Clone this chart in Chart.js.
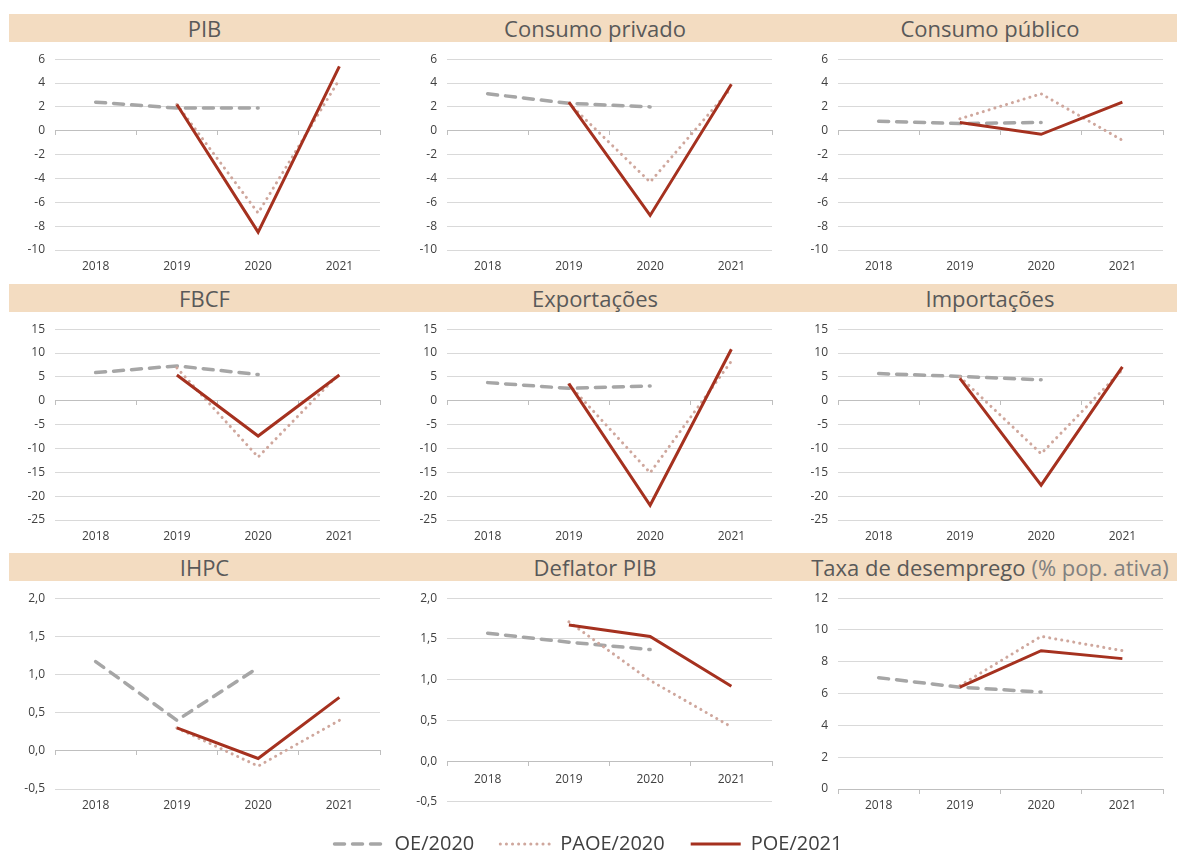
<!DOCTYPE html>
<html>
<head>
<meta charset="utf-8">
<script src="https://cdn.jsdelivr.net/npm/chart.js@4.4.1/dist/chart.umd.min.js"></script>
<style>
    body { margin: 0; background: #fff; width: 1177px; height: 853px; position: relative; overflow: hidden; font-family: "Open Sans", sans-serif; }
    .bar { position: absolute; left: 9px; width: 1168px; height: 28px; background: #F3DCC1; }
    .ttl { position: absolute; height: 28px; display: flex; justify-content: center; align-items: center; font-size: 22px; color: #595959; white-space: nowrap; }
    .ttl span { color: #808080; margin-left: 6px; }
    .cell { position: absolute; }
</style>
</head>
<body>
<div class="bar" style="top:14px"></div>
<div class="bar" style="top:284px"></div>
<div class="bar" style="top:553px"></div>

<div class="ttl" style="top:14px;left:9px;width:391px">PIB</div>
<div class="ttl" style="top:14px;left:400px;width:390px">Consumo privado</div>
<div class="ttl" style="top:14px;left:803px;width:374px">Consumo público</div>
<div class="ttl" style="top:284px;left:9px;width:391px">FBCF</div>
<div class="ttl" style="top:284px;left:400px;width:390px">Exportações</div>
<div class="ttl" style="top:284px;left:803px;width:374px">Importações</div>
<div class="ttl" style="top:553px;left:9px;width:391px">IHPC</div>
<div class="ttl" style="top:553px;left:400px;width:390px">Deflator PIB</div>
<div class="ttl" style="top:553px;left:803px;width:374px">Taxa de desemprego<span>(% pop. ativa)</span></div>

<div class="cell" style="left:0;top:42px;width:392px;height:238px"><canvas id="c-pib"></canvas></div>
<div class="cell" style="left:392px;top:42px;width:392px;height:238px"><canvas id="c-cpriv"></canvas></div>
<div class="cell" style="left:784px;top:42px;width:393px;height:238px"><canvas id="c-cpub"></canvas></div>
<div class="cell" style="left:0;top:312px;width:392px;height:238px"><canvas id="c-fbcf"></canvas></div>
<div class="cell" style="left:392px;top:312px;width:392px;height:238px"><canvas id="c-exp"></canvas></div>
<div class="cell" style="left:784px;top:312px;width:393px;height:238px"><canvas id="c-imp"></canvas></div>
<div class="cell" style="left:0;top:581px;width:392px;height:238px"><canvas id="c-ihpc"></canvas></div>
<div class="cell" style="left:392px;top:581px;width:392px;height:238px"><canvas id="c-defl"></canvas></div>
<div class="cell" style="left:784px;top:581px;width:393px;height:238px"><canvas id="c-desemp"></canvas></div>
<div class="cell" style="left:0;top:808px;width:1177px;height:100px"><canvas id="c-legend"></canvas></div>

<script>
const years = ['2018', '2019', '2020', '2021'];
const seriesNames = ['OE/2020', 'PAOE/2020', 'POE/2021'];

// taxas de variação (%)
const pibOE = [2.4, 1.9, 1.9, null];
const pibPAOE = [null, 2.2, -6.9, 4.3];
const pibPOE = [null, 2.2, -8.5, 5.4];

const cprivOE = [3.1, 2.3, 2.0, null];
const cprivPAOE = [null, 2.3, -4.3, 3.6];
const cprivPOE = [null, 2.4, -7.1, 3.9];

const cpubOE = [0.8, 0.6, 0.7, null];
const cpubPAOE = [null, 1.0, 3.1, -0.8];
const cpubPOE = [null, 0.7, -0.3, 2.4];

const fbcfOE = [5.9, 7.3, 5.5, null];
const fbcfPAOE = [null, 6.9, -11.8, 5.7];
const fbcfPOE = [null, 5.4, -7.4, 5.4];

const expOE = [3.8, 2.6, 3.1, null];
const expPAOE = [null, 3.4, -15.1, 8.3];
const expPOE = [null, 3.6, -21.9, 10.8];

const impOE = [5.7, 5.1, 4.4, null];
const impPAOE = [null, 5.0, -11.1, 6.5];
const impPOE = [null, 4.7, -17.7, 7.1];

const ihpcOE = [1.17, 0.4, 1.09, null];
const ihpcPAOE = [null, 0.3, -0.2, 0.4];
const ihpcPOE = [null, 0.3, -0.1, 0.7];

const deflOE = [1.57, 1.46, 1.37, null];
const deflPAOE = [null, 1.71, 0.99, 0.42];
const deflPOE = [null, 1.67, 1.53, 0.92];

const desempOE = [7.0, 6.4, 6.1, null];
const desempPAOE = [null, 6.5, 9.6, 8.7];
const desempPOE = [null, 6.4, 8.7, 8.2];

const lineStyles = [
    { borderColor: '#A6A6A6', borderWidth: 3.5, borderDash: [10, 8], borderCapStyle: 'round', order: 2 },
    { borderColor: '#CFA79D', borderWidth: 3, borderDash: [0.1, 6], borderCapStyle: 'round', order: 1 },
    { borderColor: '#A5311F', borderWidth: 3, borderDash: [], borderCapStyle: 'butt', order: 0 }
];

const panels = [
    { id: 'c-pib', col: 0, data: [pibOE, pibPAOE, pibPOE], min: -10, max: 6, step: 2 },
    { id: 'c-cpriv', col: 1, data: [cprivOE, cprivPAOE, cprivPOE], min: -10, max: 6, step: 2 },
    { id: 'c-cpub', col: 2, data: [cpubOE, cpubPAOE, cpubPOE], min: -10, max: 6, step: 2 },
    { id: 'c-fbcf', col: 0, data: [fbcfOE, fbcfPAOE, fbcfPOE], min: -25, max: 15, step: 5 },
    { id: 'c-exp', col: 1, data: [expOE, expPAOE, expPOE], min: -25, max: 15, step: 5 },
    { id: 'c-imp', col: 2, data: [impOE, impPAOE, impPOE], min: -25, max: 15, step: 5 },
    { id: 'c-ihpc', col: 0, data: [ihpcOE, ihpcPAOE, ihpcPOE], min: -0.5, max: 2, step: 0.5, decimals: true },
    { id: 'c-defl', col: 1, data: [deflOE, deflPAOE, deflPOE], min: -0.5, max: 2, step: 0.5, decimals: true, labelsAtZero: true },
    { id: 'c-desemp', col: 2, data: [desempOE, desempPAOE, desempPOE], min: 0, max: 12, step: 2 }
];

const axisColor = '#BFBFBF';
const tickFont = { family: '"Open Sans", sans-serif', size: 12 };
const yWidths = [55, 55, 54];
const rightPads = [12, 12, 14];

function buildPanel(p) {
    const datasets = p.data.map((values, i) => Object.assign({
        label: seriesNames[i],
        data: values,
        xAxisID: 'x',
        pointRadius: 0,
        pointHoverRadius: 0,
        tension: 0,
        fill: false
    }, lineStyles[i]));

    const scales = {};
    if (p.labelsAtZero) {
        // category labels sit right under the zero line
        scales.x = {
            type: 'category', labels: years, offset: true, position: { y: 0 },
            grid: { drawOnChartArea: false, offset: true, tickLength: 4, color: axisColor },
            border: { color: axisColor },
            ticks: { color: '#404040', font: tickFont, padding: 7 }
        };
    } else {
        scales.x = {
            type: 'category', labels: years, offset: true, position: 'bottom',
            grid: { display: false }, border: { display: false },
            ticks: { color: '#404040', font: tickFont, padding: 1 },
            afterFit: s => { s.height = 30; }
        };
        scales.x0 = {
            type: 'category', labels: years, offset: true, position: { y: 0 },
            grid: { drawOnChartArea: false, offset: true, tickLength: 4, color: axisColor },
            border: { color: axisColor },
            ticks: { display: false }
        };
    }
    scales.y = {
        min: p.min, max: p.max,
        grid: { color: '#D9D9D9', drawTicks: false },
        border: { display: false },
        ticks: {
            stepSize: p.step, color: '#404040', font: tickFont, padding: 10,
            callback: v => p.decimals ? v.toFixed(1).replace('.', ',') : v
        },
        afterFit: s => { s.width = yWidths[p.col]; }
    };

    new Chart(document.getElementById(p.id), {
        type: 'line',
        data: { labels: years, datasets: datasets },
        options: {
            responsive: true,
            maintainAspectRatio: false,
            animation: false,
            layout: { padding: { top: 16, right: rightPads[p.col], bottom: p.labelsAtZero ? 14 : 0 } },
            plugins: { legend: { display: false }, tooltip: { enabled: false } },
            scales: scales
        }
    });
}

document.addEventListener('DOMContentLoaded', () => {
    panels.forEach(buildPanel);

    // legend shared by all panels
    new Chart(document.getElementById('c-legend'), {
        type: 'line',
        data: {
            labels: years,
            datasets: seriesNames.map((name, i) => Object.assign({ label: name, data: [] }, lineStyles[i]))
        },
        options: {
            responsive: true,
            maintainAspectRatio: false,
            animation: false,
            layout: { padding: 0 },
            scales: { x: { display: false }, y: { display: false } },
            plugins: {
                tooltip: { enabled: false },
                legend: {
                    position: 'top',
                    labels: {
                        usePointStyle: true,
                        pointStyleWidth: 50,
                        boxHeight: 10,
                        padding: 26,
                        color: '#404040',
                        font: { family: '"Open Sans", sans-serif', size: 20 },
                        generateLabels: chart => chart.data.datasets.map((ds, i) => ({
                            text: ds.label,
                            datasetIndex: i,
                            hidden: false,
                            fontColor: '#404040',
                            strokeStyle: ds.borderColor,
                            fillStyle: ds.borderColor,
                            lineWidth: ds.borderWidth,
                            lineDash: ds.borderDash,
                            lineCap: ds.borderCapStyle,
                            pointStyle: 'line'
                        }))
                    }
                }
            }
        }
    });
});
</script>
</body>
</html>
